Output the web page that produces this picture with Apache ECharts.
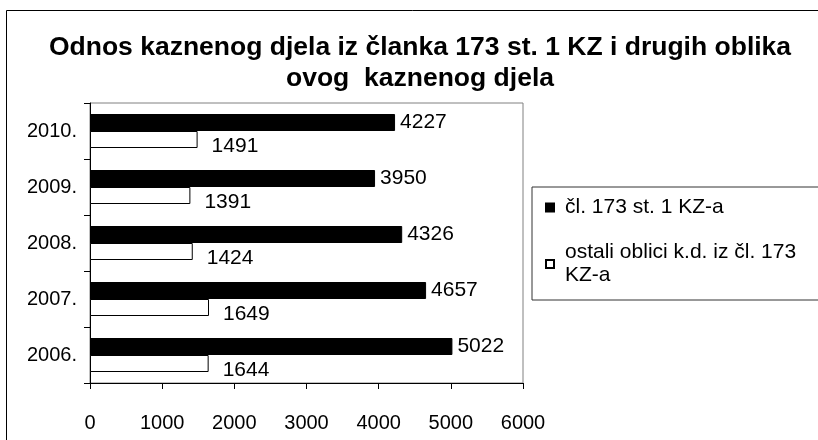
<!DOCTYPE html>
<html>
<head>
<meta charset="utf-8">
<script src="https://cdn.jsdelivr.net/npm/echarts@6/dist/echarts.min.js"></script>
<style>
  html, body { margin: 0; padding: 0; background: #fff; }
  #chart { width: 818px; height: 440px; }
</style>
</head>
<body>
<div id="chart"></div>
<script>
const years = ['2006.', '2007.', '2008.', '2009.', '2010.']
const clanak173 = [5022, 4657, 4326, 3950, 4227]
const ostaliOblici = [1644, 1649, 1424, 1391, 1491]
const xTicks = [0, 6000, 1000]

const nameMain = 'čl. 173 st. 1 KZ-a'
const nameOther = 'ostali oblici k.d. iz čl. 173 KZ-a'
const titleText = 'Odnos kaznenog djela iz članka 173 st. 1 KZ i drugih oblika\novog  kaznenog djela'
const font = '"Liberation Sans", Arial, sans-serif'

const chart = echarts.init(document.getElementById('chart'), null, { renderer: 'canvas' })

chart.setOption({
  animation: false,
  backgroundColor: '#fff',
  textStyle: { fontFamily: font, color: '#000' },
  graphic: [
    {
      type: 'rect',
      z: -10,
      shape: { x: 6.5, y: 10.5, width: 900, height: 500 },
      style: { fill: '#fff', stroke: '#000', lineWidth: 1 }
    },
    {
      // title, centred over the chart area like the original
      type: 'text',
      x: 420,
      y: 32,
      style: {
        text: titleText,
        fontFamily: font,
        fontWeight: 'bold',
        fontSize: 26.5,
        lineHeight: 31,
        fill: '#000',
        align: 'center',
        verticalAlign: 'top'
      }
    }
  ],
  legend: {
    orient: 'vertical',
    left: 532,
    top: 187,
    padding: [9, 80, 13, 13],
    borderColor: '#333',
    borderWidth: 1,
    icon: 'rect',
    itemWidth: 8,
    itemHeight: 8,
    itemGap: 22,
    data: [nameMain, nameOther],
    formatter: name => name.replace(' 173 KZ-a', ' 173\nKZ-a'),
    textStyle: { fontFamily: font, fontSize: 21, lineHeight: 23, color: '#000', padding: [0, 0, 0, 6] }
  },
  grid: {
    left: 90,
    right: 295,
    top: 103,
    bottom: 57,
    show: true,
    borderColor: '#808080',
    borderWidth: 1,
    containLabel: false
  },
  xAxis: {
    type: 'value',
    min: xTicks[0],
    max: xTicks[1],
    interval: xTicks[2],
    axisLine: { show: true, lineStyle: { color: '#000' } },
    axisTick: { show: true, length: 6, lineStyle: { color: '#000' } },
    splitLine: { show: false },
    axisLabel: { fontFamily: font, fontSize: 20, color: '#000', margin: 30, formatter: v => String(v) }
  },
  yAxis: {
    type: 'category',
    data: years,
    axisLine: { show: true, lineStyle: { color: '#000' } },
    axisTick: { show: true, length: 6, lineStyle: { color: '#000' } },
    axisLabel: { fontFamily: font, fontSize: 20, color: '#000', margin: 13 }
  },
  series: [
    {
      name: nameMain,
      type: 'bar',
      data: clanak173,
      barWidth: 17,
      barGap: '0%',
      itemStyle: { color: '#000', borderColor: '#000', borderWidth: 1 },
      label: {
        show: true,
        position: 'right',
        distance: 5,
        fontFamily: font,
        fontSize: 21,
        color: '#000'
      }
    },
    {
      name: nameOther,
      type: 'bar',
      data: ostaliOblici,
      barWidth: 17,
      barGap: '0%',
      itemStyle: { color: '#fff', borderColor: '#000', borderWidth: 1 },
      label: {
        show: true,
        position: 'right',
        distance: 14,
        offset: [0, 7],
        fontFamily: font,
        fontSize: 21,
        color: '#000'
      }
    }
  ]
})
</script>
</body>
</html>
